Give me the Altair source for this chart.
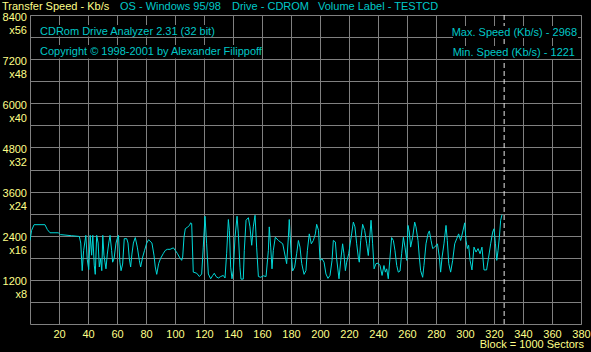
import altair as alt
import pandas as pd

# ---- data ----
blocks = [0, 1.1, 2.8, 10.3, 12, 13.8, 19.5, 21, 28.7, 34,
          35, 36, 37, 38.5, 39.5, 40.5, 41.5, 42.5, 43.3, 44.3, 45, 46, 47, 47.8, 48.7, 49.5,
          50.2, 51, 51.7, 52.4, 53.3, 54.3, 55.2, 56.3, 57, 58, 59.3, 60.2, 61, 62, 62.8, 63.9,
          65, 66.7, 67.6, 68.5, 69.4, 70.3, 71.3, 72.6, 74, 75.4, 76.3, 77.7, 79, 80.5, 81.8,
          84.1, 85.5, 86.4, 87.4, 88.7, 90, 92, 93.3, 94.7, 96.6, 98.9, 100.2, 101.6, 103,
          104.6, 105.3, 106.2, 107.1, 108.5, 110, 110.8,
          111.5, 112.6, 115, 116.8, 118.4, 119.5, 120.7, 121.8, 123, 124.6, 126, 127.1, 128.3,
          129.9, 131.5, 133.3, 134.5, 135.6, 136.8, 137.5, 138.4, 139.3, 140.2, 141.4, 142.8,
          143.7, 144.8, 145.5, 147.1, 147.8, 149, 150.6, 151.7, 152.9, 154, 155.2, 156.3, 157.5,
          159.1, 160.9, 162.8, 164.4, 165, 166, 166.9, 167.8, 169.2, 171.3, 174.3, 177, 178.2,
          178.8, 180, 181.1, 182.5, 183.9, 185.1, 186.2, 187.4, 189, 190.3, 191.3, 192.6, 194,
          195.4, 196.8, 197.7, 199, 200, 201.4, 202.8, 204.1, 205.5, 206.9, 208.3, 209.2, 210.6,
          211.5, 213.1, 214.3, 215.6, 216.5, 217.5, 218.4, 219.8,
          221.8, 223, 224.1, 225.3, 226.4, 227.1, 228.1, 229.4, 230.8, 232.2, 233.3, 234, 235.2,
          236.3, 237.3, 238.6, 240, 241.4, 242.8, 244.1, 245.1, 246, 247.1, 248.3, 249.4, 250.6,
          251.7, 252.9, 254, 255.2, 256.3, 257.5, 258.6, 259.8, 260.7, 261.6, 262.5, 263.9,
          265.3, 266.2, 267.6, 268.5, 269.4, 270.8, 271.7, 273.1, 274.5, 275.4, 276.6, 277.7,
          279.1, 281, 282.3, 283.2, 284.2, 285.5, 286.9, 287.8, 288.8, 290.1, 291.5, 292.9,
          294.3, 295.6, 297, 298.4, 299.8, 300.7, 301.6, 302.5, 303.5, 304.8, 306.2, 307.6, 309,
          310.4, 311.7, 313.1, 314.9, 316.3, 317.7, 319.1, 320, 321, 321.9, 322.8, 323.7, 324.6,
          325.5]
speeds = [2270, 2545, 2700, 2700, 2565, 2480, 2480, 2430, 2400, 2380,
          2200, 1450, 2000, 2410, 1750, 1480, 2410, 1870, 2410, 1600, 1350, 2410, 2200, 1550, 1780, 1450,
          2410, 1870, 1680, 1500, 1900, 2200, 2410, 2000, 1680, 1780, 2200, 2330, 2410, 1680, 1450, 1630,
          2320, 2320, 2200, 1780, 1550, 1900, 2200, 2350, 2090, 1730, 1550, 1820, 2000, 2200, 2290,
          2200, 1870, 1550, 1350, 1640, 1780, 1920, 2000, 2030, 2030, 2070, 2000, 1920, 1820,
          1730, 1820, 2360, 2590, 2630, 2680, 2750,
          2730, 1410, 1380, 1290, 1360, 2090, 2930, 2180, 1360, 1230, 1320, 1380, 1290,
          1250, 1290, 1320, 1250, 1910, 2840, 2545, 1545, 1230, 1450, 2360, 2930,
          2450, 1545, 1220, 1220, 2000, 2820, 2890, 2640, 2140, 2640, 2955, 2090, 1290,
          1270, 1310, 1290, 2000, 2640, 2090, 1500, 2000, 2360, 2270, 2180, 1640, 2360,
          2840, 2000, 1440, 1545, 1910, 2270, 2090, 1640, 1350, 1450, 2000, 2450, 2180,
          2270, 2450, 2710, 2545, 1730, 1770, 1680, 1360, 1240, 1320, 1730, 2270, 2230,
          1770, 1230, 1730, 2180, 1910, 1450, 1680, 1910,
          2450, 2770, 2640, 2180, 1820, 1680, 2270, 2710, 2545, 2180, 1860, 2180, 2820,
          2180, 1500, 1640, 1655, 1590, 1320, 1590, 1410, 1500, 1230, 1820, 2350, 2270,
          2000, 1590, 1410, 1440, 1910, 2360, 2090, 1730, 2680, 2500, 2090, 2360,
          2770, 2640, 2270, 1820, 1450, 1270, 1590, 2180, 2450, 2530, 2270, 2050,
          2090, 2180, 1820, 1410, 1820, 2180, 2680, 2270, 1640, 1410, 1730, 2180,
          2320, 2450, 2270, 2500, 2750, 2270, 2050, 2140, 1730, 1470, 2090, 1955, 2050,
          1910, 2090, 1470, 1470, 1820, 2180, 2500, 2590, 2180, 1730, 2000, 2360, 2820,
          2968]
x_ticks = list(range(20, 400, 20))
y_grid = list(range(600, 9000, 600))
y_labels = [1200, 2400, 3600, 4800, 6000, 7200, 8400]
y_multipliers = ["x8", "x16", "x24", "x32", "x40", "x48", "x56"]
marker_block = [327]

header_texts = ["Transfer Speed - Kb/s", "OS - Windows 95/98", "Drive - CDROM", "Volume Label - TESTCD"]
info_left = ["CDRom Drive Analyzer 2.31 (32 bit)", "Copyright \u00a9 1998-2001 by Alexander Filippoff"]
info_right = ["Max. Speed (Kb/s) - 2968", "Min.  Speed (Kb/s) - 1221"]
footer_text = "Block = 1000 Sectors"

# ---- styling ----
W, H = 551, 309
YELLOW = "#FFFF88"
CYAN = "#00C8C8"
LINE = "#00D8D8"
GRID = "#808080"
FONT = "Liberation Sans"
FS = 11

df = pd.DataFrame({"block": blocks, "speed": speeds})
ylab_df = pd.DataFrame({"value": y_labels, "mult": y_multipliers})
xscale = alt.Scale(domain=[0, 380], nice=False, zero=False)
yscale = alt.Scale(domain=[0, 8400], nice=False)

x_axis = alt.Axis(values=x_ticks, grid=True, gridColor=GRID, gridOpacity=1, domain=False,
                  ticks=False, labelColor=YELLOW, labelFont=FONT, labelFontSize=FS,
                  labelPadding=4, labelFlush=False, labelOverlap=False, title=None)
y_axis = alt.Axis(values=y_grid, grid=True, gridColor=GRID, gridOpacity=1, domain=False,
                  ticks=False, labels=False, title=None)

line = alt.Chart(df).mark_line(color=LINE, strokeWidth=1, clip=True).encode(
    x=alt.X("block:Q", scale=xscale, axis=x_axis),
    y=alt.Y("speed:Q", scale=yscale, axis=y_axis),
)

rule = alt.Chart(pd.DataFrame({"block": marker_block})).mark_rule(
    color="#E8E8E8", strokeDash=[5, 3], strokeWidth=1
).encode(x=alt.X("block:Q", scale=xscale, axis=x_axis))

ylab_num = alt.Chart(ylab_df).mark_text(
    color=YELLOW, font=FONT, fontSize=FS, align="right", baseline="middle", dy=2.5
).encode(x=alt.value(-3), y=alt.Y("value:Q", scale=yscale, axis=y_axis), text="value:N")

ylab_mult = alt.Chart(ylab_df).mark_text(
    color=YELLOW, font=FONT, fontSize=FS, align="right", baseline="middle", dy=15.5
).encode(x=alt.value(-3), y=alt.Y("value:Q", scale=yscale, axis=y_axis), text="mult:N")


def one():
    return alt.Chart(alt.Data(values=[{}]))


def box(x0, x1, y0, y1):
    return one().mark_rect(color="black").encode(
        x=alt.value(x0), x2=alt.value(x1), y=alt.value(y0), y2=alt.value(y1))


def txt(s, x, y, color, align="left"):
    return one().mark_text(text=s, color=color, font=FONT, fontSize=FS, align=align,
                           baseline="middle").encode(x=alt.value(x), y=alt.value(y))


layers = [line, rule, ylab_num, ylab_mult,
          box(8, 180, 10, 21.5), box(8, 225, 30, 43.5),
          box(423, 548, 11, 23), box(423, 548, 31, 44),
          txt(header_texts[0], -28, -8, YELLOW),
          txt(header_texts[1], 90, -8, CYAN),
          txt(header_texts[2], 202, -8, CYAN),
          txt(header_texts[3], 288, -8, CYAN),
          txt(info_left[0], 10, 17, CYAN),
          txt(info_left[1], 10, 37, CYAN),
          txt(info_right[0], 547, 17.5, CYAN, "right"),
          txt(info_right[1], 545, 37.5, CYAN, "right"),
          txt(footer_text, 554, 330, YELLOW, "right"),
          ]

chart = alt.layer(*layers).properties(
    width=W, height=H, background="black",
    padding={"left": 30, "top": 15, "right": 10, "bottom": 28},
    autosize=alt.AutoSizeParams(type="none"),
).configure_view(stroke=GRID, strokeWidth=1, fill="black").configure_axis(labelOverlap=False)

chart.save("out.html", embed_options={"renderer": "svg", "actions": False})
